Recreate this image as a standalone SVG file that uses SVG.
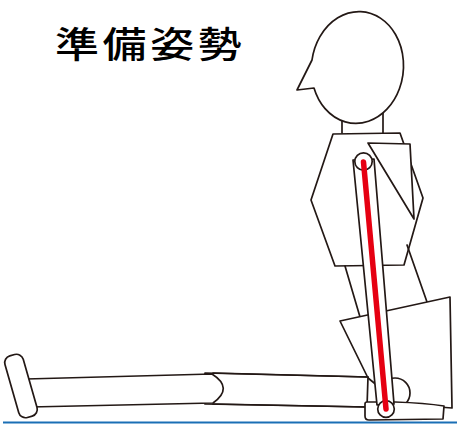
<svg xmlns="http://www.w3.org/2000/svg" width="457" height="424" viewBox="0 0 457 424">
  <style>
    .ln { fill: #ffffff; stroke: #231815; stroke-width: 1.7; stroke-linejoin: round; stroke-linecap: round; }
    .open { fill: none; stroke: #231815; stroke-width: 1.7; stroke-linecap: round; }
    .title { font-family: "Noto Sans CJK JP", "Noto Sans CJK SC", sans-serif; font-size: 36px; font-weight: 500; fill: #000000; }
  </style>

  <rect width="457" height="424" fill="#ffffff"/>

  <!-- heading -->
  <text class="title" transform="translate(55,57.5) scale(1.22,1)" letter-spacing="3">準備姿勢</text>

  <!-- neck -->
  <g id="neck">
    <line class="open" x1="342" y1="112" x2="342" y2="133"/>
    <line class="open" x1="383" y1="105" x2="383" y2="133"/>
  </g>

  <!-- head with nose -->
  <g id="head">
    <path class="ln" d="M312,60 L297,90 L314,88 A46,56 5 1 0 312,60 Z"/>
  </g>

  <!-- torso -->
  <g id="torso">
    <polygon class="ln" points="333,134 400,133 423,198 404,265 335,266 311,200"/>
  </g>

  <!-- lower trunk sides -->
  <g id="waist">
    <line class="open" x1="345" y1="266" x2="360" y2="317"/>
    <line class="open" x1="407" y1="245" x2="427" y2="302"/>
  </g>

  <!-- forearm fold at the side -->
  <g id="side-arm">
    <polygon class="ln" points="368,143 410,144 414,219"/>
  </g>

  <!-- seat / hip -->
  <g id="hip">
    <polygon class="ln" points="340,321 450,297 452,408 400,404 368,378"/>
  </g>

  <!-- thigh -->
  <g id="thigh">
    <path class="ln" d="M205,373 L368,377 L367,407 L205,404 Z" stroke="none"/>
    <line class="open" x1="213" y1="373" x2="368" y2="377"/>
    <line class="open" x1="213" y1="404" x2="367" y2="407"/>
  </g>

  <!-- shin with rounded knee end -->
  <g id="shin">
    <path class="ln" d="M26,379 L212,374 Q234,388 213,403 L30,407 Z"/>
  </g>

  <!-- foot -->
  <g id="foot">
    <rect class="ln" x="-9.5" y="-32" width="19" height="64" rx="7" transform="translate(21,386) rotate(-16)"/>
  </g>

  <!-- knee behind the arm -->
  <g id="knee">
    <circle class="ln" cx="395" cy="393" r="15"/>
  </g>

  <!-- buttock block -->
  <g id="block">
    <path class="ln" d="M367,402 L395,402 Q425,403 444,406 L443,419 L369,420 Q365,420 365,416 L365,404 Q365,402 367,402 Z"/>
  </g>

  <!-- arm reference bar -->
  <g id="arm">
    <polygon class="ln" points="353,160 374,159 394,404 377,405"/>
    <circle class="ln" cx="363.5" cy="161.5" r="8.7"/>
    <circle class="ln" cx="386" cy="409" r="8.3"/>
  </g>

  <!-- measuring line -->
  <g id="connectors">
    <line x1="363.5" y1="162" x2="386" y2="409" stroke="#e60012" stroke-width="5.5" stroke-linecap="round"/>
  </g>

  <!-- floor -->
  <line x1="3" y1="422.5" x2="457" y2="422.5" stroke="#1a6fb5" stroke-width="2"/>
</svg>
